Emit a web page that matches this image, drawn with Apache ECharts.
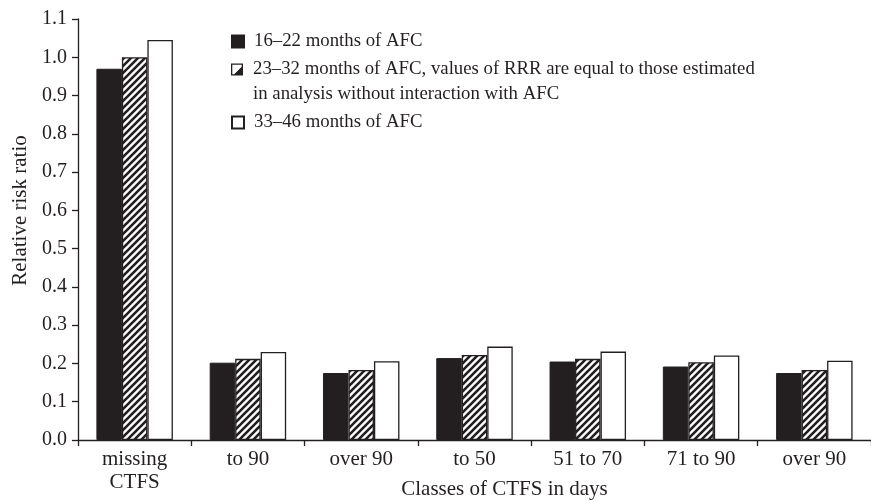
<!DOCTYPE html>
<html>
<head>
<meta charset="utf-8">
<script src="https://cdn.jsdelivr.net/npm/echarts@6/dist/echarts.min.js"></script>
<style>
  html, body { margin: 0; padding: 0; background: #fff; }
  #chart { width: 871px; height: 501px; }
</style>
</head>
<body>
<div id="chart"></div>
<script>
// Classes of CTFS (calving to first service, days)
const categories = ['missing\nCTFS', 'to 90', 'over 90', 'to 50', '51 to 70', '71 to 90', 'over 90'];

// Relative risk ratio by age at first calving (AFC) group
const afc16to22 = [0.970, 0.202, 0.175, 0.214, 0.205, 0.192, 0.175];
const afc23to32 = [1.000, 0.212, 0.183, 0.222, 0.212, 0.203, 0.183];
const afc33to46 = [1.045, 0.230, 0.206, 0.244, 0.231, 0.221, 0.207];

const seriesNames = [
  '16\u201322 months of AFC',
  '23\u201332 months of AFC, values of RRR are equal to those estimated',
  '33\u201346 months of AFC'
];
const legendSecondLine = 'in analysis without interaction with AFC';

const yTicks = { min: 0, max: 1.1, step: 0.1 };

const INK = '#231f20';
const FONT = '"Liberation Serif", "Times New Roman", serif';

// Diagonal hatch fill for the middle series
function hatchPattern() {
  const s = 7;
  const c = document.createElement('canvas');
  c.width = s; c.height = s;
  const g = c.getContext('2d');
  g.fillStyle = '#fff';
  g.fillRect(0, 0, s, s);
  g.strokeStyle = INK;
  g.lineWidth = 2.6;
  g.beginPath();
  g.moveTo(-s, 2 * s); g.lineTo(2 * s, -s);
  g.moveTo(-2 * s, 2 * s); g.lineTo(s, -s);
  g.moveTo(0, 2 * s); g.lineTo(3 * s, -s);
  g.stroke();
  return { image: c, repeat: 'repeat' };
}

// Legend swatch for the hatched series: outlined square with a dark lower-right half
const hatchIcon = 'path://M0 0L12 0L12 12L0 12Z M1.3 1.3L1.3 10.7L10.7 10.7L10.7 1.3Z M10.7 3.2L10.7 10.7L3.2 10.7Z';

const chart = echarts.init(document.getElementById('chart'), null, { renderer: 'canvas' });

const barBase = { type: 'bar', barWidth: '22.5%', barGap: '0%', barCategoryGap: '0%' };

function legendAt(item, top) {
  return {
    data: [item],
    left: 231,
    top: top,
    padding: 0,
    itemWidth: 12,
    itemHeight: 12,
    icon: 'rect',
    selectedMode: false,
    textStyle: { fontFamily: FONT, fontSize: 18.8, color: INK, lineHeight: 19, padding: [0, 0, 0, 5] }
  };
}

chart.setOption({
  animation: false,
  backgroundColor: '#fff',
  textStyle: { fontFamily: FONT, color: INK },
  grid: { left: 78, right: 0, top: 19, bottom: 61, containLabel: false, outerBoundsMode: 'none' },
  legend: [
    legendAt(seriesNames[0], 32),
    legendAt({ name: seriesNames[1], icon: hatchIcon, itemStyle: { color: INK, borderWidth: 0 } }, 60),
    legendAt(seriesNames[2], 113)
  ],
  graphic: [{
    type: 'text',
    left: 253,
    top: 85,
    style: { text: legendSecondLine, fontFamily: FONT, fontSize: 18.8, fill: INK }
  }],
  xAxis: {
    type: 'category',
    data: categories,
    name: 'Classes of CTFS in days',
    nameLocation: 'middle',
    nameGap: 39,
    nameMoveOverlap: false,
    nameTextStyle: { fontFamily: FONT, fontSize: 21, color: INK, padding: [0, 0, 0, 60] },
    axisLine: { lineStyle: { color: INK, width: 1.3 } },
    axisTick: { show: true, length: 6, lineStyle: { color: INK, width: 1.3 } },
    axisLabel: { fontFamily: FONT, fontSize: 21, color: INK, margin: 8, lineHeight: 23, interval: 0 }
  },
  yAxis: {
    type: 'value',
    min: yTicks.min,
    max: yTicks.max,
    interval: yTicks.step,
    name: 'Relative risk ratio',
    nameLocation: 'middle',
    nameGap: 47,
    nameRotate: 90,
    nameMoveOverlap: false,
    nameTextStyle: { fontFamily: FONT, fontSize: 21, color: INK, padding: [0, 0, 0, 38] },
    axisLine: { show: true, lineStyle: { color: INK, width: 1.3 } },
    axisTick: { show: true, length: 6, lineStyle: { color: INK, width: 1.3 } },
    splitLine: { show: false },
    axisLabel: {
      fontFamily: FONT, fontSize: 20, color: INK, margin: 11,
      formatter: v => v.toFixed(1)
    }
  },
  series: [
    Object.assign({}, barBase, {
      name: seriesNames[0],
      data: afc16to22,
      itemStyle: { color: INK, borderColor: INK, borderWidth: 1 }
    }),
    Object.assign({}, barBase, {
      name: seriesNames[1],
      data: afc23to32,
      itemStyle: { color: hatchPattern(), borderColor: INK, borderWidth: 1.3 }
    }),
    Object.assign({}, barBase, {
      name: seriesNames[2],
      data: afc33to46,
      itemStyle: { color: '#ffffff', borderColor: INK, borderWidth: 1.3 }
    })
  ]
});
</script>
</body>
</html>
